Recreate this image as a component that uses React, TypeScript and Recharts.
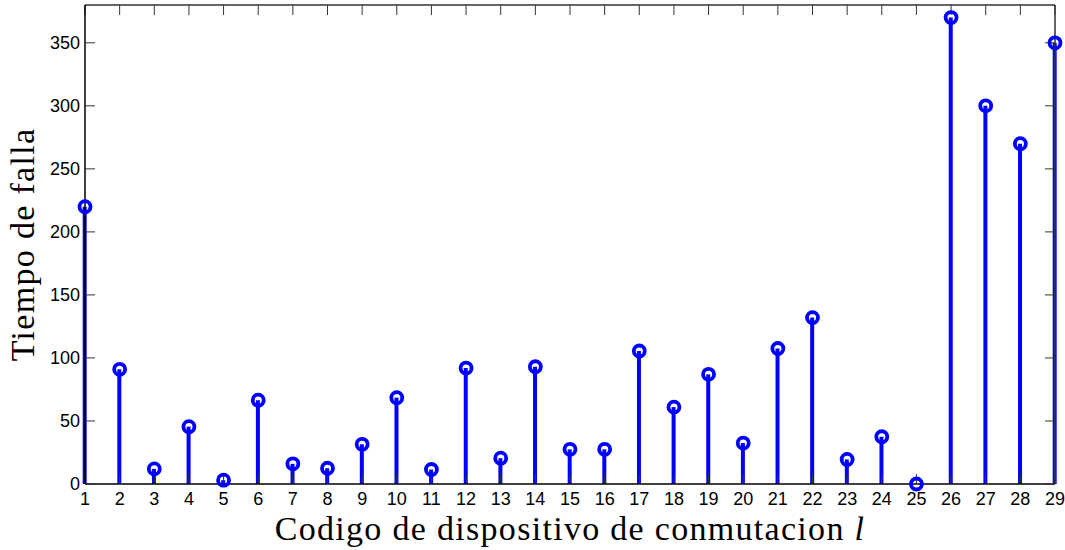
import {
  ComposedChart,
  XAxis,
  YAxis,
  Bar,
  Scatter,
} from "recharts";

const codes = [
  1, 2, 3, 4, 5, 6, 7, 8, 9, 10, 11, 12, 13, 14, 15, 16, 17, 18, 19, 20, 21,
  22, 23, 24, 25, 26, 27, 28, 29,
];
const failTimes = [
  220, 91, 12, 45.5, 3, 66.5, 16, 12.5, 31.5, 68.5, 11.5, 92, 20.5, 93, 27.5,
  27.5, 105.5, 61, 87, 32.5, 107.5, 132, 19.5, 37.5, 0, 370, 300, 270, 350,
];
const yTicks = [0, 50, 100, 150, 200, 250, 300, 350];

const data = codes.map((c, i) => ({ code: c, time: failTimes[i] }));

const BLUE = "#0000ff";
const tickFont = { fontFamily: "Liberation Sans, Arial, sans-serif", fontSize: 18, fill: "#000" };
const labelFont = { fontFamily: "Liberation Serif, serif", fontSize: 34, fill: "#000", letterSpacing: 1.3 };

const Ring = (props: any) => {
  const { cx, cy } = props;
  return <circle cx={cx} cy={cy} r={5.5} fill="none" stroke={BLUE} strokeWidth={3.8} />;
};

const NoLabel = () => <g />;

const XLabel = (props: any) => {
  const { viewBox } = props;
  const x = viewBox.x + viewBox.width / 2;
  return (
    <text x={x} y={540} textAnchor="middle" style={labelFont}>
      Codigo de dispositivo de conmutacion <tspan fontStyle="italic">l</tspan>
    </text>
  );
};

const YLabel = (props: any) => {
  const { viewBox } = props;
  const y = viewBox.y + viewBox.height / 2;
  return (
    <text
      x={34}
      y={y}
      textAnchor="middle"
      transform={`rotate(-90, 34, ${y})`}
      style={labelFont}
    >
      Tiempo de falla
    </text>
  );
};

export default function App() {
  return (
    <div style={{ position: "absolute", left: 0, top: 0, background: "#fff" }}>
      <ComposedChart
        width={1065}
        height={550}
        data={data}
        margin={{ top: 4, right: 9, left: 0, bottom: 0 }}
      >
        <XAxis
          xAxisId="b"
          dataKey="code"
          type="number"
          domain={[1, 29]}
          ticks={codes}
          interval={0}
          height={66}
          tickSize={-10}
          tickMargin={18}
          fontSize={18}
          tickLine={{ stroke: "#333" }}
          axisLine={{ stroke: "#000", strokeWidth: 1.5 }}
          tick={tickFont}
          label={<XLabel />}
        />
        <XAxis
          xAxisId="t"
          dataKey="code"
          orientation="top"
          type="number"
          domain={[1, 29]}
          ticks={codes}
          interval={0}
          height={1}
          tick={<NoLabel />}
          tickSize={-10}
          tickLine={{ stroke: "#333" }}
          axisLine={{ stroke: "#333", strokeWidth: 1.5 }}
        />
        <YAxis
          yAxisId="l"
          type="number"
          domain={[0, 380]}
          ticks={yTicks}
          interval={0}
          width={85}
          tickSize={-10}
          tickMargin={15}
          fontSize={18}
          tickLine={{ stroke: "#333" }}
          axisLine={{ stroke: "#000", strokeWidth: 1.5 }}
          tick={tickFont}
          label={<YLabel />}
        />
        <YAxis
          yAxisId="r"
          orientation="right"
          type="number"
          domain={[0, 380]}
          ticks={yTicks}
          interval={0}
          width={1}
          tick={<NoLabel />}
          tickSize={-10}
          tickLine={{ stroke: "#333" }}
          axisLine={{ stroke: "#333", strokeWidth: 1.5 }}
        />
        <Bar
          xAxisId="b"
          yAxisId="l"
          dataKey="time"
          fill={BLUE}
          barSize={4}
          isAnimationActive={false}
        />
        <Scatter
          xAxisId="t"
          yAxisId="r"
          dataKey="time"
          shape={<Ring />}
          isAnimationActive={false}
        />
      </ComposedChart>
    </div>
  );
}
